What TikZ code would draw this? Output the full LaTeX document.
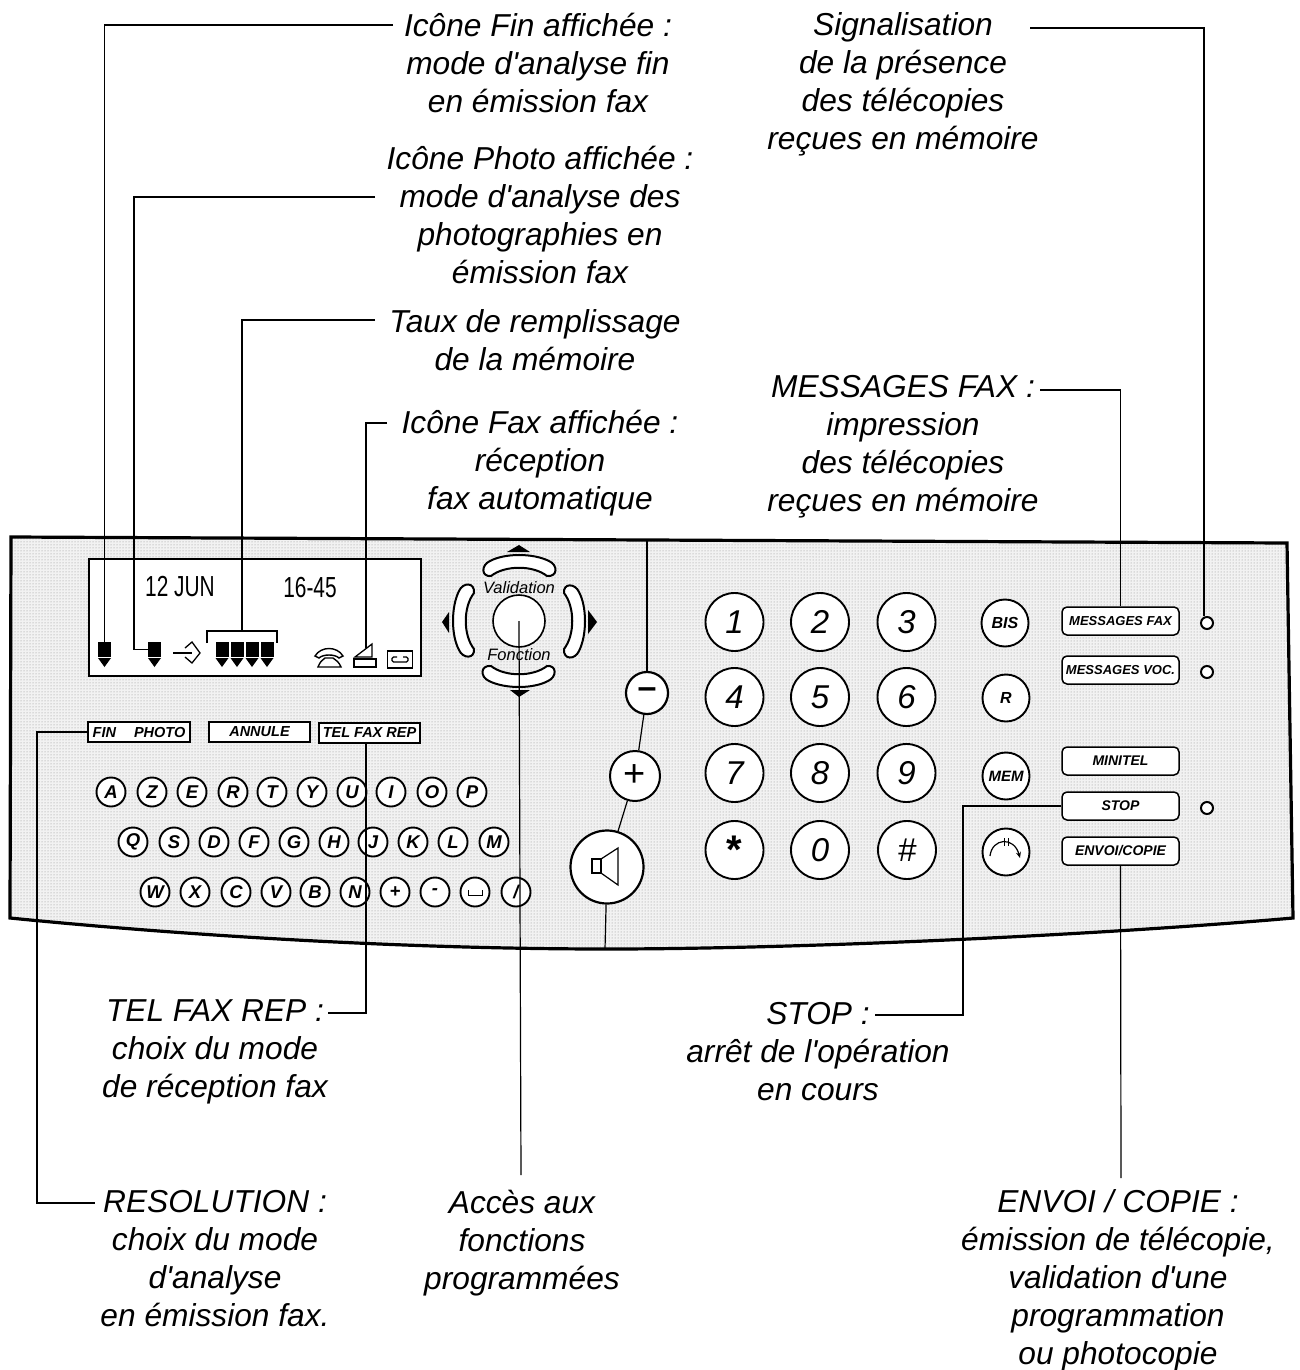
\documentclass[tikz,border=0pt]{standalone}
\usepackage{fontspec}
\setmainfont{Liberation Sans}
\newfontfamily\lcdf[FakeStretch=0.72]{Liberation Sans}
\usetikzlibrary{patterns,arrows.meta}
\newcommand{\aq}{\textquotesingle}
\tikzset{
 caption/.style={align=center,inner sep=0pt,font=\fontsize{31.7}{38}\selectfont\itshape},
 leader/.style={draw=black,line width=1.2pt},
 keyround/.style={circle,draw=black,line width=1.9pt,fill=white,inner sep=0pt,minimum size=#1},
 letterkey/.style={keyround=29pt,font=\fontsize{18.5}{18.5}\selectfont\bfseries\itshape},
 numkey/.style={keyround=58pt,font=\fontsize{33}{33}\selectfont\itshape},
 funckey/.style={keyround=47pt,font=\fontsize{16}{16}\selectfont\bfseries\itshape},
 sidebtn/.style={rectangle,rounded corners=5pt,draw=black,line width=1.5pt,fill=white,minimum width=117pt,minimum height=28pt,inner sep=0pt,font=\fontsize{14}{14}\selectfont\bfseries\itshape},
 tabbtn/.style={rectangle,draw=black,line width=2pt,fill=white,minimum width=101pt,minimum height=20pt,inner sep=0pt,font=\fontsize{14.5}{14.5}\selectfont\bfseries\itshape},
 led/.style={circle,draw=black,line width=2pt,fill=white,inner sep=0pt,minimum size=12pt},
 mark box/.style={rectangle,fill=black,inner sep=0pt,minimum width=13pt,minimum height=15pt},
 crescent/.style={draw=black,line width=2pt,fill=white},
 lcd/.style={font=\fontsize{29}{29}\selectfont\lcdf,inner sep=0pt}
}
\newcommand{\dpadarm}[1]{\path[crescent,rotate around={#1:(519,621)}] (490,561) .. controls (505,553) and (533,553) .. (549,561) .. controls (558,565) and (558,577) .. (547,576) .. controls (533,565) and (505,565) .. (491,576) .. controls (481,577) and (481,565) .. (490,561) -- cycle;}
\newcommand{\lcdmark}[2]{\node[mark box] (#2) at (#1,649.5) {};\fill (#1-6.5,658) -- (#1+6.5,658) -- (#1,667) -- cycle;}
\begin{document}
\begin{tikzpicture}[x=1pt,y=-1pt]
\path[use as bounding box] (0,0) rectangle (1300,1370);
% panel
\def\panelpath{(11,537) -- (1287,543) -- (1293,918) .. controls (1100,935) and (800,949) .. (607,949) .. controls (400,949) and (180,935) .. (10,918) -- cycle}
\fill[black!5] \panelpath;
\fill[pattern=dots,pattern color=black!45] \panelpath;
\draw[line width=3.2pt,line join=miter] \panelpath;
% display
\node[rectangle,draw=black,line width=2.2pt,fill=white,minimum width=332pt,minimum height=117pt,inner sep=0pt] (display) at (255,617.5) {};
\node[lcd] (date) at (180,587) {12 JUN};
\node[lcd] (time) at (310,588) {16-45};
\lcdmark{104.5}{finmark}
\lcdmark{154.5}{photomark}
\lcdmark{222}{gaugea}
\lcdmark{237}{gaugeb}
\lcdmark{252}{gaugec}
\lcdmark{267}{gauged}
\draw[line width=1.1pt] (207,643) -- (207,631) -- (277,631) -- (277,643);
\coordinate (gaugetop) at (242,631);
% arrow-in-diamond icon
\draw[line width=1.2pt] (173,653) -- (192,653);
\draw[line width=1.3pt] (185,648) -- (192,642) -- (200,653) -- (192,663) -- (185,657);
% phone icon
\draw[line width=1.4pt] (315,656) .. controls (321,646) and (337,646) .. (343,656) -- (339,658) .. controls (335,654) and (323,654) .. (319,658) -- cycle;
\draw[line width=1.4pt] (318,667) .. controls (320,662) and (322,660) .. (325,658) -- (333,658) .. controls (336,660) and (339,662) .. (341,667) -- cycle;
% fax icon
\draw[line width=1.3pt] (355,657) -- (372,644) -- (372,657) -- cycle;
\node[rectangle,draw=black,line width=1.3pt,minimum width=22pt,minimum height=8pt,inner sep=0pt] (faxbase) at (365,663) {};
\coordinate (faxtop) at (366,648);
% tape icon
\draw[line width=1.4pt] (387.5,651) rectangle (412.5,668);
\draw[line width=1.1pt,rounded corners=1.5pt] (397,657) -- (392,657) -- (392,662) -- (408,662) -- (408,657) -- (403,657);
% bar buttons
\node[tabbtn,minimum width=102pt] (finphoto) at (139,732) {FIN\hspace{18pt}PHOTO};
\node[tabbtn] (annule) at (259.5,732) {ANNULE};
\node[tabbtn] (telfax) at (369.5,732.5) {TEL FAX REP};
% letter keys
\foreach \x/\l in {111/A,152/Z,192/E,233/R,272/T,312/Y,352/U,391/I,432/O,472/P}
  \node[letterkey] (key\l) at (\x,792) {\l};
\foreach \x/\l in {133/Q,174/S,214/D,254/F,294/G,334/H,373/J,413/K,453/L,494/M}
  \node[letterkey] (key\l) at (\x,842) {\l};
\foreach \x/\l in {155/W,195/X,236/C,276/V,315/B,355/N,395/+,435/-}
  \node[letterkey] (key\l) at (\x,892) {\l};
\node[letterkey] (keyspace) at (475,892) {};
\draw[line width=1pt] (468,890) -- (468,895) -- (482,895) -- (482,890);
\node[letterkey] (keyslash) at (516,892) {/};
% d-pad
\dpadarm{0}\dpadarm{90}\dpadarm{180}\dpadarm{270}
\fill (519,545) -- (530,552) -- (507,552) -- cycle;
\fill (519,697) -- (530,690) -- (510,690) -- cycle;
\fill (442,622) -- (449,612) -- (449,633) -- cycle;
\fill (597,622) -- (588,610) -- (588,634) -- cycle;
\node[keyround=52pt,line width=1.6pt] (dpadcentre) at (519,621) {};
\node[inner sep=0pt,font=\fontsize{16.5}{16.5}\selectfont\itshape] (validation) at (519,588) {Validation};
\node[inner sep=0pt,font=\fontsize{16.5}{16.5}\selectfont\itshape] (fonction) at (519,655) {Fonction};
% volume and speaker
\node[keyround=42pt,line width=2.2pt,font=\fontsize{34}{34}\selectfont\bfseries] (minusbtn) at (647,693) {\raisebox{-6pt}{--}};
\node[keyround=50pt,line width=2pt,font=\fontsize{38}{38}\selectfont] (plusbtn) at (635,776) {+};
\node[keyround=73pt,line width=2.2pt] (speaker) at (607,867) {};
\draw[line width=1.2pt] (592,859) rectangle (601,873);
\draw[line width=1.2pt] (601,859) -- (618,848) -- (618,885) -- (601,873);
% number pad
\foreach \y/\a/\b/\c in {622/1/2/3,697/4/5/6,773/7/8/9}{
  \node[numkey] (num\a) at (734.5,\y) {\a};
  \node[numkey] (num\b) at (820,\y) {\b};
  \node[numkey] (num\c) at (906.5,\y) {\c};
}
\node[numkey,font=\fontsize{40}{40}\selectfont\bfseries] (numstar) at (734.5,850) {\raisebox{-9pt}{*}};
\node[numkey] (numzero) at (820,850) {0};
\node[numkey] (numhash) at (907,850) {\#};
% function keys
\node[funckey] (bis) at (1005,623) {BIS};
\node[funckey] (rkey) at (1006,698) {R};
\node[funckey,font=\fontsize{15}{15}\selectfont\bfseries\itshape] (mem) at (1006,776) {MEM};
\node[funckey] (redial) at (1006,852) {};
\draw[line width=1.2pt,-{Stealth[length=6pt,width=5pt]}] (990,856) .. controls (992,838) and (1014,836) .. (1020,858);
\draw[line width=1pt] (1004,838) -- (1004,846) (1008,838) -- (1008,846);
% side buttons
\node[sidebtn,font=\fontsize{13}{13}\selectfont\bfseries\itshape] (msgfax) at (1120.5,621) {MESSAGES FAX};
\node[sidebtn,font=\fontsize{13}{13}\selectfont\bfseries\itshape] (msgvoc) at (1120.5,670) {MESSAGES VOC.};
\node[sidebtn] (minitel) at (1120.5,761) {MINITEL};
\node[sidebtn] (stopbtn) at (1120.5,806) {STOP};
\node[sidebtn] (envoi) at (1120.5,851) {ENVOI/COPIE};
\node[led] (ledfax) at (1207,623) {};
\node[led] (ledvoc) at (1207,672) {};
\node[led] (ledstop) at (1207,808) {};
% captions
\node[caption] (capfin) at (538,63) {Icône Fin affichée :\\mode d\aq analyse fin\\en émission fax};
\node[caption] (capphoto) at (540,215) {Icône Photo affichée :\\mode d\aq analyse des\\photographies en\\émission fax};
\node[caption] (captaux) at (535,340) {Taux de remplissage\\de la mémoire};
\node[caption] (capfax) at (540,463) {Icône Fax affichée :\\réception\\fax automatique};
\node[caption] (capsignal) at (903,84) {Signalisation\\de la présence\\des télécopies\\reçues en mémoire};
\node[caption] (capmsg) at (903,447) {MESSAGES FAX :\\impression\\des télécopies\\reçues en mémoire};
\node[caption] (captel) at (215,1052) {TEL FAX REP :\\choix du mode\\de réception fax};
\node[caption] (capstop) at (818,1052) {STOP :\\arrêt de l\aq opération\\en cours};
\node[caption] (capres) at (215,1259) {RESOLUTION :\\choix du mode\\d\aq analyse\\en émission fax.};
\node[caption] (capacces) at (522,1243) {Accès aux\\fonctions\\programmées};
\node[caption] (capenvoi) at (1118,1280) {ENVOI / COPIE :\\émission de télécopie,\\validation d\aq une\\programmation\\ou photocopie};
% free ends
\coordinate (endfin) at (393,25);
\coordinate (endphoto) at (375,197);
\coordinate (endtaux) at (375,320);
\coordinate (endfax) at (387,423);
\coordinate (endsignal) at (1030,28);
\coordinate (ledtop) at (1204,616);
\coordinate (endmsg) at (1040,390);
\coordinate (endtel) at (328,1013);
\coordinate (endstop) at (875,1015);
\coordinate (endres) at (95,1203);
\coordinate (endacces) at (521,1175);
\coordinate (endenvoi) at (1121,1178);
\coordinate (paneltop) at (647,540);
\coordinate (panelbot) at (605,949);
% connectors
\draw[leader] (endfin) -- (104.5,25) -- (finmark.north);
\draw[leader] (endphoto) -- (134,197) |- (photomark.west);
\draw[leader] (endtaux) -| (gaugetop);
\draw[leader] (endfax) -| (faxtop);
\draw[leader] (endsignal) -| (ledtop);
\draw[leader] (endmsg) -| (msgfax.north);
\draw[leader] (paneltop) -- (minusbtn);
\draw[leader] (minusbtn) -- (plusbtn);
\draw[leader] (plusbtn) -- (speaker);
\draw[leader] (speaker) -- (panelbot);
\draw[leader] (endacces) -- (dpadcentre.center);
\draw[leader] (finphoto.west) -- (37,732) |- (endres);
\draw[leader] (366,742.5) |- (endtel);
\draw[leader] (stopbtn.west) -| (963,1015) -- (endstop);
\draw[leader] (envoi.south) -- (endenvoi);
\end{tikzpicture}
\end{document}
